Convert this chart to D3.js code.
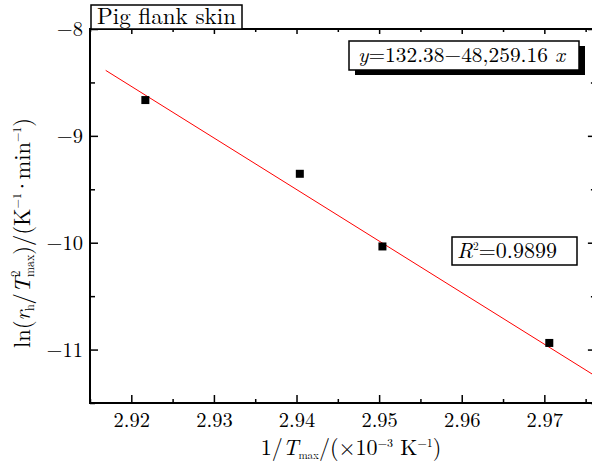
<!DOCTYPE html>
<html><head><meta charset="utf-8">
<script src="https://cdn.jsdelivr.net/npm/d3@7"></script>
<style>
html,body{margin:0;padding:0;background:#fff;}
svg, svg text{font-family:"Latin Modern Roman","CMU Serif","Liberation Serif",serif !important;}
</style></head>
<body>
<svg id="chart" width="592" height="463"></svg>
<script>
// ---- data ----
const invT = [2.9217, 2.9404, 2.9504, 2.9706];      // 1/Tmax (×10^-3 K^-1)
const lnRate = [-8.665, -9.355, -10.035, -10.938];   // ln(rh/Tmax^2)
const fitIntercept = 132.38;
const fitSlope = -48.25916;                          // per 10^-3 K^-1
const fitRange = [2.9169, 2.976];
const xTicks = [2.92, 2.93, 2.94, 2.95, 2.96, 2.97];
const xMinor = [2.915, 2.925, 2.935, 2.945, 2.955, 2.965, 2.975];
const yTicks = [-8, -9, -10, -11];
const yMinor = [-8.5, -9.5, -10.5, -11.5];
const sampleLabel = "Pig flank skin";
const eqText = "=132.38\u221248,259.16 ";
const r2Text = "=0.9899";

const svg = d3.select("#chart");
const L = 90, R = 593.9, T = 29, B = 403;
const x = d3.scaleLinear().domain([2.915, 2.976]).range([L, R]);
const y = d3.scaleLinear().domain([-11.5, -8]).range([B, T]);

const fmtX = d3.format(".2f");
const fmtY = d => d3.format("d")(d).replace("-", "\u2212");

function styleAxis(g){
  g.attr("font-family", null).attr("font-size", null);
  g.select(".domain").remove();
  g.selectAll(".tick line").attr("stroke","#000").attr("stroke-width",1.5);
  g.selectAll(".tick text").attr("font-size",20.5).attr("fill","#000");
}
// bottom
svg.append("g").attr("transform",`translate(0,${B})`)
  .call(d3.axisBottom(x).tickValues(xTicks).tickSize(-8).tickFormat(fmtX))
  .call(styleAxis).call(g=>g.selectAll(".tick text").attr("dy",null).attr("y",24));
svg.append("g").attr("transform",`translate(0,${B})`)
  .call(d3.axisBottom(x).tickValues(xMinor).tickSize(-4).tickFormat(""))
  .call(styleAxis);
// top
svg.append("g").attr("transform",`translate(0,${T})`)
  .call(d3.axisTop(x).tickValues(xTicks).tickSize(-5).tickFormat(""))
  .call(styleAxis);
svg.append("g").attr("transform",`translate(0,${T})`)
  .call(d3.axisTop(x).tickValues(xMinor).tickSize(-3).tickFormat(""))
  .call(styleAxis);
// left
svg.append("g").attr("transform",`translate(${L},0)`)
  .call(d3.axisLeft(y).tickValues(yTicks).tickSize(-8).tickFormat(fmtY))
  .call(styleAxis).call(g=>g.selectAll(".tick text").attr("x",-7).attr("dy","0.33em"));
svg.append("g").attr("transform",`translate(${L},0)`)
  .call(d3.axisLeft(y).tickValues(yMinor).tickSize(-5).tickFormat(""))
  .call(styleAxis);
// right
svg.append("g").attr("transform",`translate(${R},0)`)
  .call(d3.axisRight(y).tickValues(yTicks).tickSize(-6).tickFormat(""))
  .call(styleAxis);
svg.append("g").attr("transform",`translate(${R},0)`)
  .call(d3.axisRight(y).tickValues(yMinor).tickSize(-3).tickFormat(""))
  .call(styleAxis);

// frame
svg.append("rect").attr("x",L).attr("y",T).attr("width",R-L).attr("height",B-T)
  .attr("fill","none").attr("stroke","#000").attr("stroke-width",2);

// fit line
svg.append("clipPath").attr("id","pc").append("rect")
  .attr("x",L).attr("y",T).attr("width",R-L).attr("height",B-T);
svg.append("line")
  .attr("clip-path","url(#pc)")
  .attr("x1",x(fitRange[0])).attr("y1",y(fitIntercept+fitSlope*fitRange[0]))
  .attr("x2",x(fitRange[1])).attr("y2",y(fitIntercept+fitSlope*fitRange[1]))
  .attr("stroke","#ff0000").attr("stroke-width",1);

// points
svg.append("g").selectAll("rect").data(invT.map((v,i)=>[v,lnRate[i]])).join("rect")
  .attr("x",d=>x(d[0])-4).attr("y",d=>y(d[1])-4).attr("width",8).attr("height",8)
  .attr("fill","#000");

// sample label box
svg.append("rect").attr("x",91).attr("y",5).attr("width",151).attr("height",24)
  .attr("fill","#fff").attr("stroke","#000").attr("stroke-width",1.5);
svg.append("text").attr("x",97).attr("y",24).attr("font-size",22.5)
  .attr("textLength",139).attr("lengthAdjust","spacingAndGlyphs").text(sampleLabel);

// equation box with shadow
svg.append("rect").attr("x",355).attr("y",46).attr("width",230).attr("height",29).attr("fill","#000");
svg.append("rect").attr("x",349).attr("y",41).attr("width",230).attr("height",29)
  .attr("fill","#fff").attr("stroke","#000").attr("stroke-width",1.5);
const eq = svg.append("text").attr("x",358).attr("y",62).attr("font-size",21)
  .attr("textLength",207).attr("lengthAdjust","spacingAndGlyphs");
eq.append("tspan").attr("font-style","italic").text("y");
eq.append("tspan").text(eqText);
eq.append("tspan").attr("font-style","italic").text("x");

// R2 box
svg.append("rect").attr("x",452).attr("y",237).attr("width",125).attr("height",28)
  .attr("fill","#fff").attr("stroke","#000").attr("stroke-width",1.5);
const r2 = svg.append("text").attr("x",457).attr("y",258).attr("font-size",21.5)
  .attr("textLength",100).attr("lengthAdjust","spacingAndGlyphs");
r2.append("tspan").attr("font-style","italic").text("R");
r2.append("tspan").attr("font-size",11).attr("dy",-8).text("2");
r2.append("tspan").attr("dy",8).text(r2Text);

// x title
const xt = svg.append("text").attr("x",351).attr("y",455).attr("text-anchor","middle").attr("font-size",22);
xt.append("tspan").text("1/");
xt.append("tspan").attr("font-style","italic").text("T");
xt.append("tspan").attr("font-size",11).attr("dy",4).text("max");
xt.append("tspan").attr("dy",-4).text("/(\u00d710");
xt.append("tspan").attr("font-size",12).attr("dy",-8).text("\u22123");
xt.append("tspan").attr("dy",8).text(" K");
xt.append("tspan").attr("font-size",12).attr("dy",-8).text("\u22121");
xt.append("tspan").attr("dy",8).text(")");

// y title
const yt = svg.append("text").attr("transform","translate(30,233) rotate(-90)")
  .attr("text-anchor","middle").attr("font-size",22.5);
yt.append("tspan").text("ln(");
yt.append("tspan").attr("font-style","italic").text("r");
yt.append("tspan").attr("font-size",12).attr("dy",4).text("h");
yt.append("tspan").attr("dy",-4).text("/");
yt.append("tspan").attr("font-style","italic").text("T");
yt.append("tspan").attr("font-size",13).attr("dy",-10).text("2");
yt.append("tspan").attr("font-size",12).attr("dx",-6.5).attr("dy",14).text("max");
yt.append("tspan").attr("dy",-4).text(")/(K");
yt.append("tspan").attr("font-size",12).attr("dy",-9).text("\u22121");
yt.append("tspan").attr("dy",9).attr("dx",-2).text("\u00b7");
yt.append("tspan").attr("dx",-2).text("min");
yt.append("tspan").attr("font-size",12).attr("dy",-9).text("\u22121");
yt.append("tspan").attr("dy",9).text(")");
</script>
</body></html>
